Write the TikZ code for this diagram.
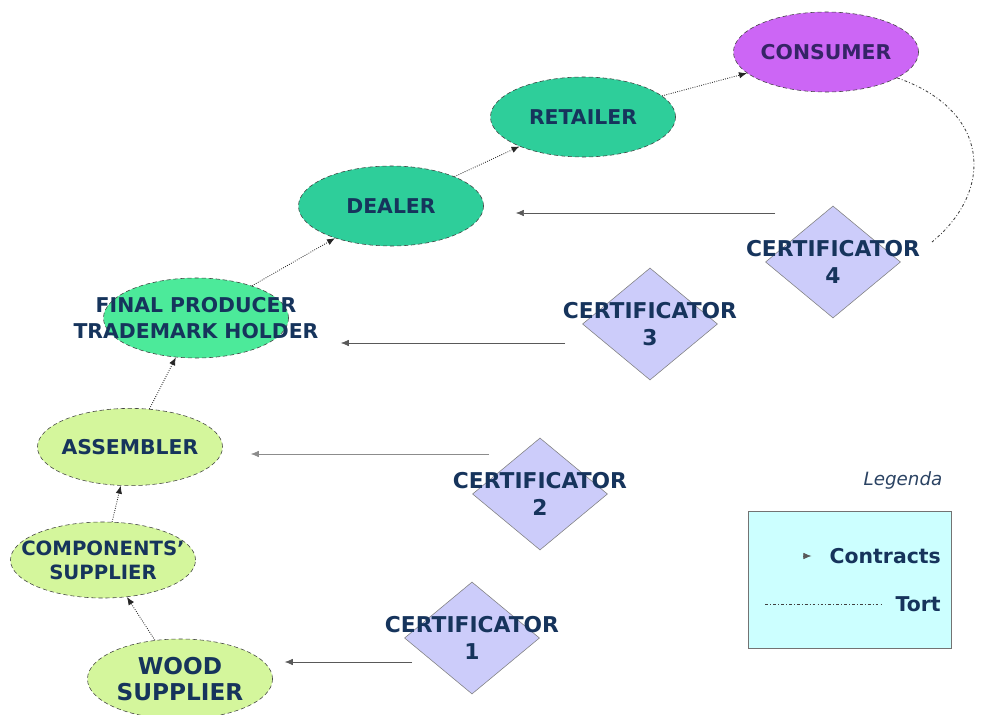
\documentclass[tikz,border=0pt]{standalone}
\usepackage{fontspec}
\setsansfont{DejaVu Sans}
\usetikzlibrary{arrows.meta,shapes,positioning,calc}
\definecolor{navytext}{RGB}{22,52,92}
\definecolor{consumerfill}{RGB}{204,102,245}
\definecolor{tradefill}{RGB}{46,206,154}
\definecolor{producerfill}{RGB}{76,234,154}
\definecolor{supplyfill}{RGB}{212,246,156}
\definecolor{certfill}{RGB}{204,204,250}
\definecolor{legendfill}{RGB}{204,255,255}
\tikzset{
    actor/.style={draw=black!75, densely dashed, ellipse, minimum width=4.625cm, minimum height=2cm, inner sep=0pt},
    certifier/.style={draw=black!50, diamond, fill=certfill, minimum width=3.375cm, minimum height=2.8cm, inner sep=0pt},
    contract/.style={-{Latex[length=2mm, width=1.6mm]}, thin, black!65},
    supply/.style={-{Latex[length=2mm, width=1.6mm]}, line width=0.6pt, densely dotted, black!85},
    tort/.style={line width=0.6pt, dash pattern=on 2pt off 1.5pt on 0.6pt off 1.5pt, black!75},
    legtext/.style={inner sep=0pt, text=navytext, font=\sffamily\bfseries\fontsize{14.5}{18}\selectfont},
    every label/.style={align=center, text=navytext, font=\sffamily\bfseries\fontsize{14.5}{18}\selectfont}
}

\begin{document}
\begin{tikzpicture}[x=0.025cm, y=-0.025cm]
    \useasboundingbox (0,0) rectangle (986,715);

    % supply chain
    \node[actor, fill=supplyfill, label={[font=\sffamily\bfseries\fontsize{16.5}{19}\selectfont]center:WOOD\\SUPPLIER}] (wood) at (180,679) {};
    \node[actor, fill=supplyfill, minimum height=1.9cm, label={[font=\sffamily\bfseries\fontsize{14}{17}\selectfont]center:COMPONENTS'\\SUPPLIER}] (comp) at (103,560) {};
    \node[actor, fill=supplyfill, minimum height=1.93cm, label=center:ASSEMBLER] (assembler) at (130,447) {};
    \node[actor, fill=producerfill, label={center:FINAL PRODUCER\\TRADEMARK HOLDER}] (producer) at (196,318) {};
    \node[actor, fill=tradefill, label=center:DEALER] (dealer) at (391,206) {};
    \node[actor, fill=tradefill, label=center:RETAILER] (retailer) at (583,117) {};
    \node[actor, fill=consumerfill, label={[text=navytext!70!violet]center:CONSUMER}] (consumer) at (826,52) {};

    % certificators
    \node[certifier, label={[font=\sffamily\bfseries\fontsize{15.5}{19}\selectfont]center:CERTIFICATOR\\1}] (c1) at (472,638) {};
    \node[certifier, label={[font=\sffamily\bfseries\fontsize{15.5}{19}\selectfont]center:CERTIFICATOR\\2}] (c2) at (540,494) {};
    \node[certifier, label={[font=\sffamily\bfseries\fontsize{15.5}{19}\selectfont]center:CERTIFICATOR\\3}] (c3) at (650,324) {};
    \node[certifier, label={[font=\sffamily\bfseries\fontsize{15.5}{19}\selectfont]center:CERTIFICATOR\\4}] (c4) at (833,262) {};

    \draw[supply] (wood) -- (comp);
    \draw[supply] (comp) -- (assembler);
    \draw[supply] (assembler) -- (producer);
    \draw[supply] (producer) -- (dealer);
    \draw[supply] (dealer) -- (retailer);
    \draw[supply] (retailer) -- (consumer);

    \draw[contract] ($(c1.west)+(8,24)$) -- ($(wood.east)+(12,-17)$);
    \draw[contract, black!45] ($(c2.west)+(17,-40)$) -- ($(assembler.east)+(28,7)$);
    \draw[contract] ($(c3.west)+(-17,19)$) -- ($(producer.east)+(52,25)$);
    \draw[contract] ($(c4)+(-58,-49)$) -- ($(dealer.east)+(32,7)$);

    \draw[tort] (consumer.-20) .. controls (990,110) and (995,190) .. ($(c4)+(99,-20)$);

    % legend
    \node[inner sep=0pt, text=navytext!80!gray, font=\sffamily\itshape\fontsize{13}{16}\selectfont] (legendtitle) at (903,480) {Legenda};
    \node[draw=black!55, fill=legendfill, minimum width=5.075cm, minimum height=3.425cm] (legendbox) at (850,580) {};
    \node[legtext, anchor=east] (contracts) at (941,556) {Contracts};
    \node[legtext, anchor=east] (tortlbl) at (941,604) {Tort};
    \draw[contract] ($(contracts.west)+(-26,0)$) -- ($(contracts.west)+(-18,0)$);
    \draw[tort] ($(tortlbl.west)+(-130,0)$) -- ($(tortlbl.west)+(-14,0)$);
\end{tikzpicture}
\end{document}
